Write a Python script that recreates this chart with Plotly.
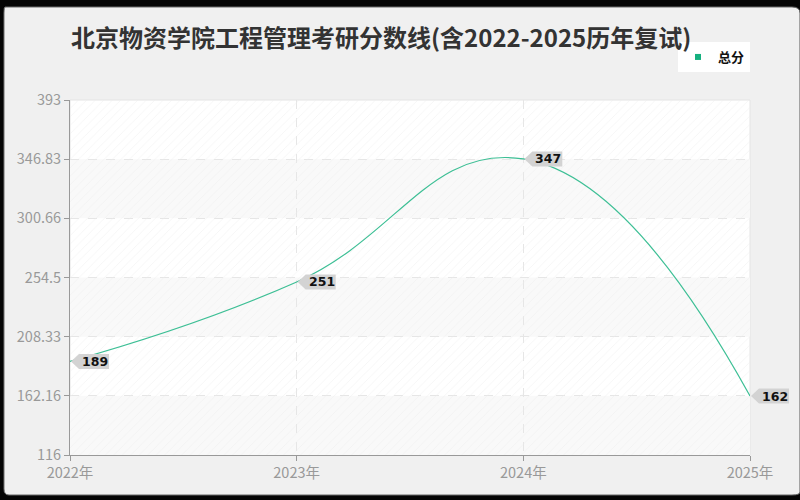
import plotly.graph_objects as go

# data
years = [2022, 2023, 2024, 2025]
year_labels = ["2022年", "2023年", "2024年", "2025年"]
scores = [189, 251, 347, 162]
y_ticks = [116, 162.16, 208.33, 254.5, 300.66, 346.83, 393]
y_tick_labels = ["116", "162.16", "208.33", "254.5", "300.66", "346.83", "393"]

title = "北京物资学院工程管理考研分数线(含2022-2025历年复试)"
series_name = "总分"
line_color = "#3dbf95"
cjk = "Noto Sans CJK SC"

x_lo, x_hi = years[0], years[-1]
y_lo, y_hi = y_ticks[0], y_ticks[-1]

fig = go.Figure()

# hatched plot background
fig.add_trace(go.Scatter(
    x=[x_lo, x_hi, x_hi, x_lo, x_lo],
    y=[y_lo, y_lo, y_hi, y_hi, y_lo],
    mode="lines", line=dict(width=0), fill="toself",
    fillcolor="rgba(0,0,0,0)",
    fillpattern=dict(shape="/", fgcolor="#ececec", bgcolor="rgba(0,0,0,0)",
                     size=6, solidity=0.15),
    hoverinfo="skip", showlegend=False,
))

fig.add_trace(go.Scatter(
    x=years, y=scores, mode="lines",
    line=dict(color=line_color, width=1.2, shape="spline", smoothing=1.3),
    name=series_name, showlegend=False,
))

# legend entry (small square)
fig.add_trace(go.Scatter(
    x=[None], y=[None], mode="markers", name="<b>" + series_name + "</b>",
    marker=dict(symbol="square", size=6, color="#16b07f"),
))

shapes = []
# outer dark frame + rounded light panel
shapes.append(dict(
    type="path", xref="paper", yref="paper", layer="below",
    path="M -0.0956,1.2620 L 1.0618,1.2620 Q 1.0735,1.2620 1.0735,1.2451 "
         "L 1.0735,-0.1042 Q 1.0735,-0.1127 1.0618,-0.1127 L -0.0897,-0.1127 "
         "Q -0.0971,-0.1127 -0.0971,-0.0958 L -0.0971,1.2451 Q -0.0971,1.2620 -0.0956,1.2620 Z",
    fillcolor="#f0f0f0", line=dict(color="#666", width=1),
))
# white plot area
shapes.append(dict(type="rect", xref="x domain", yref="y domain", layer="below",
                   x0=0, x1=1, y0=0, y1=1, fillcolor="white",
                   line=dict(color="#e4e4e4", width=1)))
# alternating light bands
for i in range(0, len(y_ticks) - 1, 2):
    shapes.append(dict(type="rect", xref="x domain", yref="y", layer="below",
                       x0=0, x1=1, y0=y_ticks[i], y1=y_ticks[i + 1],
                       fillcolor="#f9f9f9", line=dict(width=0)))

# value tags (paper refs so they are not clipped at the plot edge)
annotations = []
for x, v in zip(years, scores):
    px = (x - x_lo) / (x_hi - x_lo)
    py = (v - y_lo) / (y_hi - y_lo)
    shapes.append(dict(
        type="path", xref="paper", yref="paper", xsizemode="pixel", ysizemode="pixel",
        xanchor=px, yanchor=py, layer="above",
        path="M 1,0 L 9,7.5 L 39,7.5 L 39,-7.5 L 9,-7.5 Z",
        fillcolor="#d3d3d3", line=dict(width=0),
    ))
    annotations.append(dict(
        x=x, y=v, xref="x", yref="y", text="<b>%d</b>" % v, showarrow=False,
        xanchor="center", yanchor="middle", xshift=25, yshift=0,
        font=dict(family="DejaVu Sans", size=12.5, color="#111"),
    ))

annotations.append(dict(
    x=0, y=(455 - 36) / 355, xref="paper", yref="paper", xanchor="left",
    yanchor="middle", xshift=-1, text="<b>" + title + "</b>", showarrow=False,
    font=dict(family=cjk, size=24, color="#333"),
))

fig.update_layout(
    width=800, height=500,
    margin=dict(l=70, r=50, t=100, b=45),
    paper_bgcolor="#050505",
    plot_bgcolor="rgba(0,0,0,0)",
    shapes=shapes,
    annotations=annotations,
    legend=dict(x=1, xanchor="right", y=(455 - 42) / 355, yanchor="top",
                bgcolor="white", bordercolor="white", borderwidth=0,
                font=dict(family=cjk, size=13, color="#111"),
                itemwidth=30, tracegroupgap=0),
    xaxis=dict(
        range=[x_lo, x_hi], tickvals=years, ticktext=year_labels,
        showgrid=True, gridcolor="#e6e6e6", griddash="dash", gridwidth=1,
        showline=True, linecolor="#999", linewidth=1,
        ticks="outside", ticklen=5, tickcolor="#999",
        tickfont=dict(family=cjk, size=14.5, color="#999"),
        zeroline=False,
    ),
    yaxis=dict(
        range=[y_lo, y_hi], tickvals=y_ticks, ticktext=y_tick_labels,
        showgrid=True, gridcolor="#e6e6e6", griddash="dash", gridwidth=1,
        showline=True, linecolor="#999", linewidth=1,
        ticks="outside", ticklen=5, tickcolor="#999",
        tickfont=dict(family=cjk, size=14.5, color="#999"),
        zeroline=False,
    ),
    hovermode=False,
)

fig.write_html("out.html", config={"displayModeBar": False},
               post_script="document.body.style.margin='0px';")
